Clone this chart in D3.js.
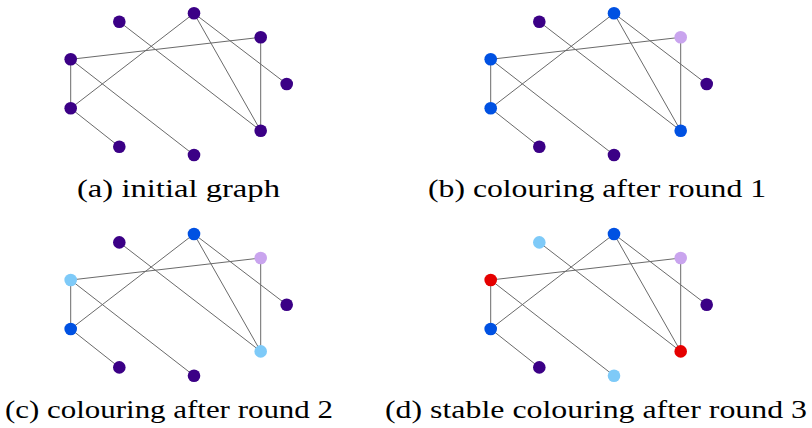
<!DOCTYPE html>
<html>
<head>
<meta charset="utf-8">
<script src="https://cdn.jsdelivr.net/npm/d3@7"></script>
<style>
  body { margin: 0; background: #fff; }
  svg { display: block; }
  .cap { font-family: "Liberation Serif", "Times New Roman", serif; }
</style>
</head>
<body>
<div id="chart"></div>
<script>
// ===== DATA =====
const nodes = ["A", "B", "C", "D", "E", "F", "G", "H", "I"];
// layout coordinates
const nodeX = [119.3, 194, 260.7, 286.7, 260.7, 194, 119.3, 70.7, 70.7];
const nodeY = [21.7, 13.3, 37.3, 84, 130.7, 155, 146.7, 108.3, 59.3];

const edges = [
  ["A", "E"], ["B", "H"], ["B", "E"], ["B", "D"], ["C", "I"],
  ["C", "E"], ["I", "H"], ["I", "F"], ["H", "G"]
];

const captions = [
  "(a) initial graph",
  "(b) colouring after round 1",
  "(c) colouring after round 2",
  "(d) stable colouring after round 3"
];

// colour class of each node, per panel
const colouring = [
  ["p", "p", "p", "p", "p", "p", "p", "p", "p"],
  ["p", "b", "l", "p", "b", "p", "p", "b", "b"],
  ["p", "b", "l", "p", "c", "p", "p", "b", "c"],
  ["c", "b", "l", "p", "r", "c", "p", "b", "r"]
];

const palette = {
  p: "#3b0086",
  b: "#0051e2",
  l: "#c9a4ee",
  c: "#7ecaf8",
  r: "#e50000"
};

// ===== LAYOUT =====
const width = 812;
const height = 428;

const panelX = [0, 420, 0, 420];
const panelY = [0, 0, 220.7, 220.7];
const captionX = [178.5, 597, 169, 596];
const captionW = [203, 338, 328, 422];

const svg = d3.select("#chart").append("svg")
  .attr("width", width)
  .attr("height", height);

const idx = {};
nodes.forEach((n, i) => idx[n] = i);

captions.forEach((cap, k) => {
  const x = d3.scaleLinear().domain([0, 1]).range([panelX[k], panelX[k] + 1]);
  const y = d3.scaleLinear().domain([0, 1]).range([panelY[k], panelY[k] + 1]);

  const g = svg.append("g");

  g.selectAll("line")
    .data(edges)
    .enter()
    .append("line")
    .attr("x1", d => x(nodeX[idx[d[0]]]))
    .attr("y1", d => y(nodeY[idx[d[0]]]))
    .attr("x2", d => x(nodeX[idx[d[1]]]))
    .attr("y2", d => y(nodeY[idx[d[1]]]))
    .attr("stroke", "#6a6a6a")
    .attr("stroke-width", 1);

  g.selectAll("circle")
    .data(nodes)
    .enter()
    .append("circle")
    .attr("cx", (d, i) => x(nodeX[i]))
    .attr("cy", (d, i) => y(nodeY[i]))
    .attr("r", 6.3)
    .attr("fill", (d, i) => palette[colouring[k][i]]);

  // caption under the panel
  g.append("text")
    .attr("class", "cap")
    .attr("x", captionX[k])
    .attr("y", y(197))
    .attr("text-anchor", "middle")
    .attr("font-size", 25)
    .attr("fill", "#000")
    .attr("textLength", captionW[k])
    .attr("lengthAdjust", "spacingAndGlyphs")
    .text(cap);
});
</script>
</body>
</html>
